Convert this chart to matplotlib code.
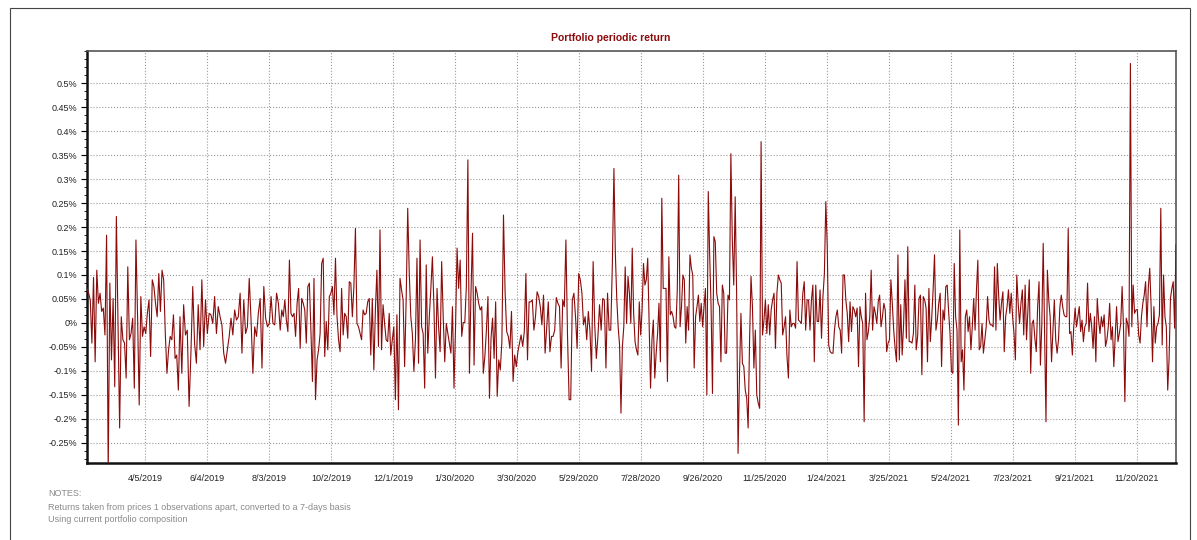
import numpy as np
import pandas as pd
import matplotlib
matplotlib.use("Agg")
import matplotlib.pyplot as plt
import matplotlib.dates as mdates
from matplotlib.ticker import FixedLocator, FuncFormatter, AutoMinorLocator
from matplotlib.patches import Rectangle

# Boundaries of the sub-periods the returns are grouped in
period_bounds = ["2019-02-08", "2019-05-09", "2019-08-14", "2019-11-26", "2020-03-14",
                 "2020-07-02", "2020-10-19", "2021-02-06", "2021-05-26", "2021-09-12",
                 "2021-12-28"]

# Periodic returns, in percent, one list per sub-period
r1 = [0.072, 0.062, 0.048, -0.042, 0.095, -0.081, 0.110, 0.041, 0.062, 0.024,
      0.031, -0.025, 0.183, -0.310, 0.083, -0.077, 0.051, -0.133, 0.222, 0.006,
      -0.219, 0.013, -0.035, -0.042, -0.115, 0.117, -0.035, -0.022, 0.010, -0.136,
      0.173, 0.013, -0.171, 0.055, -0.028, -0.008, -0.022, 0.020, 0.048, -0.070,
      0.090, 0.076, 0.041, 0.013, 0.103, 0.024, 0.110, 0.090, -0.022, -0.105,
      -0.056, -0.028, -0.035, 0.017, -0.074, -0.067, -0.140]
r2 = [0.013, -0.105, 0.038, -0.025, -0.015, -0.174, -0.063, 0.076, -0.042, -0.084,
      0.038, -0.056, 0.090, -0.049, 0.048, -0.022, 0.020, 0.017, -0.001, 0.055,
      -0.022, 0.034, 0.013, -0.004, -0.063, -0.084, -0.056, -0.028, 0.010, -0.025,
      0.027, 0.006, 0.013, 0.062, -0.063, 0.048, -0.022, -0.008, 0.093, 0.006,
      -0.105, -0.008, -0.028, 0.020, 0.051, -0.094, 0.076, 0.010, -0.008, -0.001,
      0.055, -0.001, -0.004, 0.062, 0.041]
r3 = [-0.015, 0.027, 0.013, 0.048, 0.006, -0.018, 0.131, 0.020, 0.013, 0.020,
      -0.028, 0.041, 0.072, -0.053, 0.051, 0.041, 0.027, -0.042, 0.076, 0.083,
      -0.015, -0.122, 0.093, -0.160, -0.077, -0.056, -0.022, 0.124, 0.135, -0.070,
      0.003, -0.056, 0.055, 0.062, 0.076, 0.017, 0.135, 0.013, -0.035, -0.060,
      0.072, -0.025, 0.020, 0.013, -0.032, 0.086, 0.083, 0.013, 0.076, 0.197,
      -0.001, -0.008, -0.022, -0.035, 0.027, 0.017, 0.020, 0.044, 0.051, -0.067,
      0.051, -0.098, 0.027, 0.110, -0.049, 0.194, -0.056, 0.038, -0.001, -0.035]
r4 = [-0.039, 0.020, -0.067, -0.035, -0.008, -0.160, 0.017, -0.181, 0.093, 0.069,
      0.048, -0.091, 0.051, 0.239, 0.103, 0.013, -0.022, -0.101, -0.035, 0.135,
      -0.084, 0.173, -0.008, -0.022, -0.136, 0.121, -0.063, 0.013, 0.072, 0.138,
      0.034, -0.115, 0.072, -0.008, -0.060, 0.128, 0.013, -0.081, -0.001, -0.022,
      -0.042, -0.063, 0.034, -0.136, -0.008, 0.156, 0.072, 0.131, -0.028, 0.001,
      0.001, 0.076, 0.340, -0.105, 0.062, 0.187, -0.088, 0.076, 0.062, 0.041,
      0.027, 0.034, -0.105, -0.070, -0.015, 0.055, -0.157, -0.032, 0.010, -0.074,
      0.044, -0.153, -0.077]
r5 = [-0.098, -0.039, 0.225, 0.065, -0.018, -0.028, -0.053, 0.024, -0.122, -0.067,
      -0.091, -0.060, -0.042, -0.025, -0.049, -0.018, 0.103, -0.077, 0.044, 0.044,
      0.048, -0.015, 0.013, 0.065, 0.055, 0.034, -0.004, 0.058, -0.063, -0.008,
      0.044, -0.060, -0.028, -0.028, -0.015, 0.053, 0.041, 0.034, -0.094, 0.048,
      0.034, 0.173, -0.028, -0.160, -0.160, 0.048, 0.062, 0.013, -0.053, 0.103,
      0.090, 0.062, -0.004, 0.013, -0.035, 0.024, -0.015, -0.101, 0.128, -0.004,
      -0.074, -0.028, 0.038, -0.015, 0.051, 0.048, -0.094, 0.062, -0.015, -0.015,
      0.121]
r6 = [0.322, 0.145, 0.051, -0.008, -0.046, -0.188, -0.049, -0.008, 0.117, -0.001,
      0.097, 0.062, -0.001, 0.156, 0.020, -0.039, -0.056, -0.067, 0.044, -0.025,
      0.027, 0.124, 0.079, 0.090, 0.135, -0.001, -0.136, -0.035, 0.006, -0.115,
      -0.063, -0.022, 0.041, -0.081, 0.260, 0.072, 0.072, 0.072, -0.122, 0.138,
      0.017, 0.024, 0.013, -0.008, -0.011, 0.069, 0.308, -0.008, 0.034, 0.100,
      0.090, -0.042, 0.034, -0.015, 0.142, 0.114, 0.100, -0.094, 0.013, 0.034,
      0.058, 0.003, 0.041, -0.008, 0.034, 0.072, -0.150, 0.274, 0.142, 0.034,
      -0.147, 0.180, 0.169, 0.062, 0.041, 0.034, -0.081, 0.079, 0.062, -0.063]
r7 = [-0.063, 0.058, 0.048, 0.353, 0.173, 0.079, 0.263, 0.062, -0.272, -0.105,
      0.020, -0.084, -0.091, -0.140, -0.157, -0.219, -0.035, 0.097, 0.034, -0.094,
      -0.015, -0.150, -0.167, -0.178, 0.378, -0.025, 0.006, 0.048, -0.022, 0.038,
      -0.025, 0.027, 0.048, 0.062, -0.053, 0.062, 0.100, 0.090, 0.083, -0.025,
      -0.008, 0.013, -0.070, -0.115, 0.027, -0.008, -0.001, -0.001, -0.011, 0.128,
      0.006, 0.003, -0.001, 0.062, 0.086, -0.015, 0.048, 0.048, -0.015, 0.048,
      0.079, -0.081, 0.079, 0.003, 0.003, 0.069, -0.032, 0.055, 0.103, 0.253,
      0.159, -0.046, -0.060, -0.063, -0.063, -0.015, 0.013, 0.027, -0.008]
r8 = [-0.015, -0.063, 0.100, 0.100, 0.048, 0.020, -0.039, 0.044, -0.018, 0.034,
      0.027, 0.013, 0.031, -0.091, 0.034, 0.013, -0.001, -0.206, 0.062, -0.035,
      -0.018, 0.013, 0.110, -0.015, 0.034, 0.020, -0.001, 0.044, 0.058, -0.008,
      0.013, 0.041, 0.027, -0.060, -0.042, -0.035, 0.090, 0.041, -0.015, -0.053,
      -0.081, 0.142, -0.077, 0.038, -0.067, -0.004, 0.090, -0.032, 0.159, -0.039,
      -0.039, -0.042, -0.022, 0.079, -0.056, -0.028, 0.051, 0.058, -0.108, 0.055,
      0.048, 0.031, -0.081, 0.072, -0.039, 0.010, 0.069, 0.142, -0.015, 0.006,
      0.041, 0.062, -0.091, 0.027, 0.006, 0.076, 0.079, 0.024, -0.022, -0.101]
r9 = [-0.105, 0.124, 0.013, -0.015, -0.213, 0.194, -0.081, -0.056, -0.140, 0.013,
      0.027, -0.018, 0.013, -0.056, -0.008, 0.051, -0.015, 0.069, 0.131, -0.056,
      -0.049, -0.001, -0.063, -0.035, -0.008, 0.055, 0.006, -0.004, -0.004, -0.008,
      0.117, -0.015, 0.124, 0.055, 0.006, 0.041, 0.065, -0.060, 0.013, 0.034,
      0.069, 0.020, 0.062, 0.013, -0.022, -0.077, 0.100, 0.041, -0.001, 0.041,
      0.069, -0.025, 0.079, -0.035, 0.027, 0.090, -0.105, -0.001, 0.006, -0.032,
      -0.060, 0.034, 0.086, -0.088, -0.004, 0.166, -0.022, -0.206, 0.110, 0.048,
      0.013, -0.081, -0.015, 0.048, -0.035, -0.063, -0.035, 0.034, 0.058, 0.034,
      0.017]
r10 = [0.013, 0.013, 0.197, -0.022, -0.018, -0.067, -0.008, 0.031, -0.008, 0.013,
       0.034, -0.018, 0.006, -0.039, -0.008, -0.001, 0.083, -0.018, 0.020, -0.008,
       -0.053, 0.013, -0.081, 0.051, 0.006, -0.022, 0.013, -0.008, 0.017, -0.049,
       -0.035, -0.008, 0.041, -0.035, -0.008, -0.091, -0.028, 0.034, -0.039, -0.022,
       -0.001, 0.076, -0.008, -0.164, 0.010, -0.001, -0.028, 0.541, -0.008, 0.079,
       0.020, 0.027, 0.028, -0.025, -0.042, 0.013, 0.041, 0.058, 0.086, -0.008,
       0.076, 0.114, 0.034, -0.081, 0.034, -0.042, -0.008, -0.001, 0.017, 0.239,
       -0.046, 0.100, 0.013, -0.008, -0.140, -0.074, 0.051, 0.072, 0.086, -0.011,
       0.163]
periods = [r1, r2, r3, r4, r5, r6, r7, r8, r9, r10]

# x-axis labels every 60 days
tick_dates = pd.date_range("2019-04-05", periods=17, freq="60D")
y_ticks = np.arange(-0.25, 0.501, 0.05)

# spread each sub-period's observations evenly over its dates
date_parts = []
for i, vals in enumerate(periods):
    last = i == len(periods) - 1
    rng = pd.date_range(period_bounds[i], period_bounds[i + 1],
                        periods=len(vals) if last else len(vals) + 1)
    date_parts.append(rng if last else rng[:-1])
dates = date_parts[0].append(date_parts[1:])
returns = np.concatenate(periods)

line_color = "#8b0a0a"
plt.rcParams["font.family"] = ["Liberation Sans", "DejaVu Sans"]

fig = plt.figure(figsize=(11.97, 5.4), dpi=100)
ax = fig.add_axes([87 / 1197, 1 - 463 / 540, (1176 - 87) / 1197, (463 - 51) / 540])

ax.plot(dates, returns, color=line_color, linewidth=0.8, zorder=3)

ax.set_xlim(pd.Timestamp(period_bounds[0]), pd.Timestamp(period_bounds[-1]))
ax.set_ylim(-0.292, 0.567)

# x axis: fixed dates, m/d/yyyy labels
ax.xaxis.set_major_locator(FixedLocator(mdates.date2num(tick_dates)))
ax.xaxis.set_major_formatter(FuncFormatter(
    lambda x, pos: "{d.month}/{d.day}/{d.year}".format(d=mdates.num2date(x))))
ax.tick_params(axis="x", length=0, pad=8, labelsize=6.5, labelcolor="#222222")

# y axis: percent labels
ax.yaxis.set_major_locator(FixedLocator(y_ticks))
ax.yaxis.set_major_formatter(FuncFormatter(lambda v, pos: f"{round(v, 2):g}%".replace("-0%", "0%")))
ax.yaxis.set_minor_locator(AutoMinorLocator(3))
ax.tick_params(axis="y", which="major", length=4, width=0.8, pad=3, labelsize=6.5, labelcolor="#222222")
ax.tick_params(axis="y", which="minor", length=2, width=0.6)

ax.grid(True, which="major", linestyle=":", linewidth=0.8, color="#999999", zorder=0)
ax.set_axisbelow(True)

for side in ["left", "bottom"]:
    ax.spines[side].set_linewidth(1.8)
    ax.spines[side].set_color("#111111")
for side in ["top", "right"]:
    ax.spines[side].set_linewidth(1.2)
    ax.spines[side].set_color("#555555")

fig.text(611 / 1197, 1 - 38 / 540, "Portfolio periodic return", ha="center", va="center",
         fontsize=7.5, fontweight="bold", color=line_color)

# notes under the chart
notes = [
    "NOTES:",
    "Returns taken from prices 1 observations apart, converted to a 7-days basis",
    "Using current portfolio composition",
]
for i, line in enumerate(notes):
    fig.text(48 / 1197, 1 - (494 + 13 * i) / 540, line, ha="left", va="center",
             fontsize=6.5, color="#8a8a8a")

# outer frame
fig.add_artist(Rectangle((10 / 1197, -0.05), (1190 - 10) / 1197, 1.05 - 8 / 540,
                         transform=fig.transFigure, fill=False, edgecolor="#444444", linewidth=0.8))

fig.savefig("out.png", dpi=100)
